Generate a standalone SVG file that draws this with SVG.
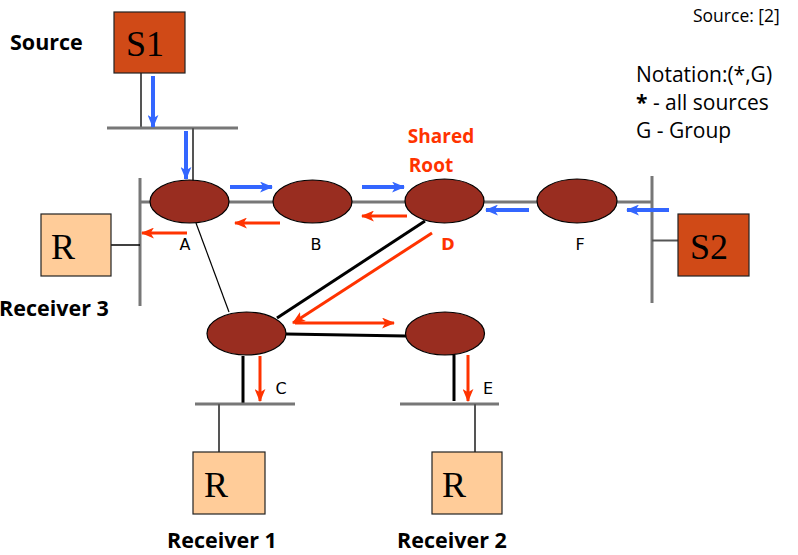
<svg xmlns="http://www.w3.org/2000/svg" width="798" height="555" viewBox="0 0 798 555">
<defs>
<marker id="ab" viewBox="0 0 12 10" refX="11" refY="5" markerWidth="13" markerHeight="11" markerUnits="userSpaceOnUse" orient="auto">
<path d="M0,0 L12,5 L0,10 L3,5 Z" fill="#3366FF"/>
</marker>
<marker id="ar" viewBox="0 0 12 10" refX="11" refY="5" markerWidth="13" markerHeight="11" markerUnits="userSpaceOnUse" orient="auto">
<path d="M0,0 L12,5 L0,10 L3,5 Z" fill="#FF3300"/>
</marker>
</defs>
<style>
.rt{fill:#992D20;stroke:#000;stroke-width:1.2}
.src{fill:#D04A17;stroke:#222;stroke-width:1.2}
.rcv{fill:#FFCC99;stroke:#222;stroke-width:1.2}
.big{font-family:"Liberation Serif",serif;font-size:36px;fill:#000}
.bus{stroke:#777;stroke-width:3;fill:none}
.thin{stroke:#555;stroke-width:2;fill:none}
.blk{stroke:#000;stroke-width:3;fill:none}
.blue{stroke:#3366FF;stroke-width:4;fill:none;marker-end:url(#ab)}
.red{stroke:#FF3300;stroke-width:3;fill:none;marker-end:url(#ar)}
.lbl{font-family:"DejaVu Sans",sans-serif;font-size:16px;fill:#000;text-anchor:middle}
.bold{font-family:"Open Sans",sans-serif;font-weight:bold;font-size:21.5px;fill:#000}
.note{font-family:"Open Sans",sans-serif;font-size:21px;fill:#000}
</style>
<g id="connectors">
<line class="thin" x1="141" y1="73" x2="141" y2="128"/>
<line class="bus" x1="107" y1="128" x2="238" y2="128"/>
<line class="thin" x1="193" y1="128" x2="193" y2="181"/>
<line class="bus" x1="140" y1="178" x2="140" y2="306"/>
<line class="bus" x1="140" y1="202" x2="652" y2="202"/>
<line class="bus" x1="652" y1="176" x2="652" y2="303"/>
<line x1="111" y1="245" x2="140" y2="245" stroke="#000" stroke-width="1.5"/>
<line x1="652" y1="240.5" x2="678" y2="240.5" stroke="#555" stroke-width="2"/>
<line x1="196" y1="223" x2="229" y2="312" stroke="#000" stroke-width="1.2"/>
<line class="blk" x1="425" y1="221" x2="277" y2="318"/>
<line class="blk" x1="286" y1="334" x2="406" y2="336"/>
<line class="blk" x1="243" y1="356" x2="243" y2="404"/>
<line class="blk" x1="454" y1="355" x2="454" y2="401"/>
<line class="bus" x1="195" y1="404" x2="295" y2="404"/>
<line class="bus" x1="400" y1="404" x2="499" y2="404"/>
<line class="thin" x1="219" y1="404" x2="219" y2="452"/>
<line class="thin" x1="475" y1="404" x2="475" y2="452"/>
<line class="blue" x1="153" y1="76" x2="153" y2="127"/>
<line class="blue" x1="186" y1="131" x2="186" y2="179"/>
<line class="blue" x1="230" y1="187" x2="272" y2="187"/>
<line class="blue" x1="362" y1="187" x2="404" y2="187"/>
<line class="blue" x1="529" y1="210" x2="486" y2="210"/>
<line class="blue" x1="669" y1="210" x2="627" y2="210"/>
<line class="red" x1="280" y1="223" x2="235" y2="223"/>
<line class="red" x1="407" y1="216" x2="362" y2="216"/>
<line class="red" x1="187" y1="233" x2="142" y2="233"/>
<line class="red" x1="432" y1="233" x2="293" y2="323"/>
<line class="red" x1="295" y1="323" x2="394" y2="323"/>
<line class="red" x1="260" y1="356" x2="260" y2="401"/>
<line class="red" x1="468" y1="355" x2="468" y2="401"/>
</g>
<g id="S1"><rect class="src" x="114" y="12" width="71" height="61"/><text class="big" x="126" y="56">S1</text></g>
<g id="S2"><rect class="src" x="678" y="214" width="71" height="62"/><text class="big" x="690" y="259">S2</text></g>
<g id="R3"><rect class="rcv" x="41" y="214" width="70" height="62"/><text class="big" x="51" y="259">R</text></g>
<g id="R1"><rect class="rcv" x="193" y="452" width="72" height="62"/><text class="big" x="204" y="497">R</text></g>
<g id="R2"><rect class="rcv" x="432" y="452" width="70" height="62"/><text class="big" x="442" y="497">R</text></g>
<g id="A"><ellipse class="rt" cx="189.5" cy="201.5" rx="39.5" ry="21.5"/><text class="lbl" x="185" y="250">A</text></g>
<g id="B"><ellipse class="rt" cx="312.5" cy="201.5" rx="39.5" ry="21.5"/><text class="lbl" x="316" y="250">B</text></g>
<g id="D"><ellipse class="rt" cx="444.5" cy="201" rx="39.5" ry="22"/><text x="448" y="250" style="font-family:'DejaVu Sans',sans-serif;font-size:16px;font-weight:bold;fill:#FF3300;text-anchor:middle">D</text></g>
<g id="F"><ellipse class="rt" cx="577" cy="201" rx="40" ry="22"/><text class="lbl" x="580" y="250">F</text></g>
<g id="C"><ellipse class="rt" cx="246.5" cy="333.5" rx="39.5" ry="21.5"/><text class="lbl" x="281" y="394">C</text></g>
<g id="E"><ellipse class="rt" cx="445" cy="333.5" rx="39.5" ry="21.5"/><text class="lbl" x="488" y="394">E</text></g>
<text x="441" y="143" style="font-family:'Open Sans',sans-serif;font-weight:bold;font-size:19px;fill:#FF3300;text-anchor:middle">Shared</text>
<text x="431" y="172" style="font-family:'Open Sans',sans-serif;font-weight:bold;font-size:19px;fill:#FF3300;text-anchor:middle">Root</text>
<text class="bold" x="10" y="50">Source</text>
<text class="bold" x="-1" y="316">Receiver 3</text>
<text class="bold" x="167" y="548">Receiver 1</text>
<text class="bold" x="397" y="548">Receiver 2</text>
<text class="note" x="693" y="22" style="font-size:17.5px">Source: [2]</text>
<text class="note" x="636" y="82">Notation:(*,G)</text>
<text class="note" x="636" y="110"><tspan font-weight="bold">*</tspan> - all sources</text>
<text class="note" x="636" y="138">G - Group</text>
</svg>
